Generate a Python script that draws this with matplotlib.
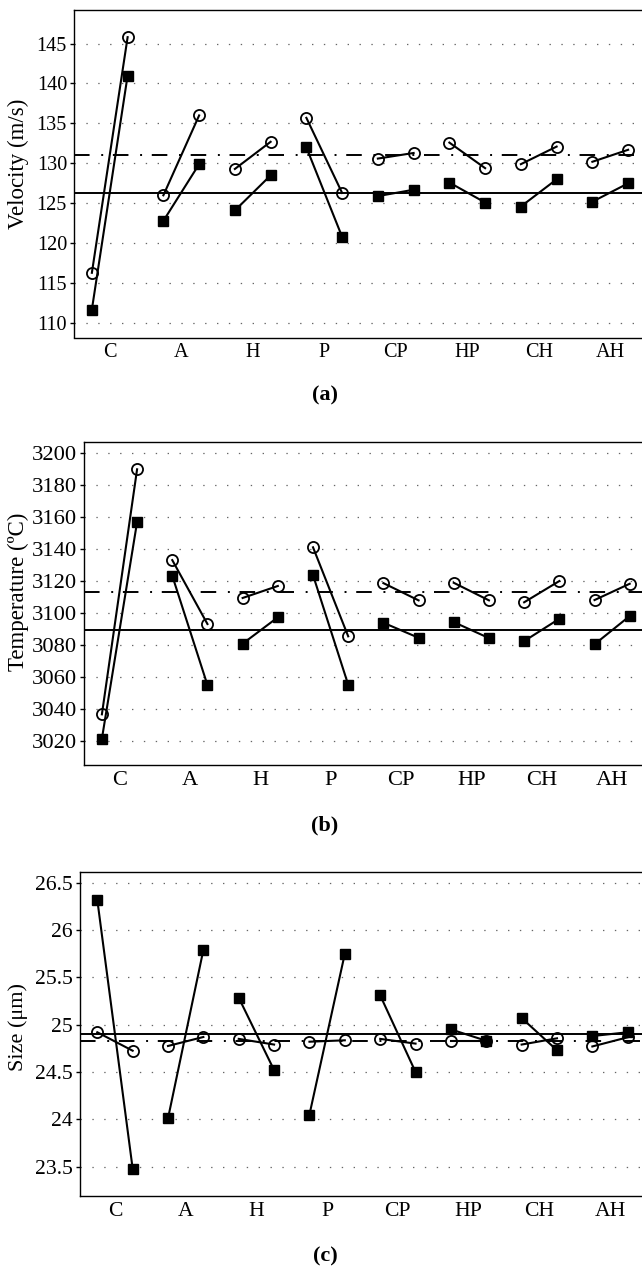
import numpy as np
import matplotlib.pyplot as plt

plt.rcParams['font.family'] = ['Liberation Serif', 'DejaVu Serif']

# ── Data ───────────────────────────────────────────────────────────────────────
FACTORS = ["C", "A", "H", "P", "CP", "HP", "CH", "AH"]

# (a) velocity, m/s — two levels per factor
VEL_CIRC = [116.3, 145.8, 126.0, 136.0, 129.3, 132.7, 135.7, 126.3,
            130.6, 131.3, 132.6, 129.4, 129.9, 132.1, 130.2, 131.7]
VEL_SQ = [111.7, 141.0, 122.8, 129.9, 124.1, 128.5, 132.0, 120.8,
          125.9, 126.7, 127.6, 125.1, 124.6, 128.0, 125.2, 127.5]
VEL_MEAN_CIRC = 131.0
VEL_MEAN_SQ = 126.35

# (b) temperature, ºC
TEMP_CIRC = [3036.7, 3190.0, 3133.2, 3093.2, 3109.5, 3117.0, 3141.2, 3085.5,
             3118.8, 3108.0, 3119.0, 3108.0, 3106.8, 3120.1, 3108.2, 3118.4]
TEMP_SQ = [3021.4, 3157.0, 3123.4, 3055.0, 3080.9, 3097.4, 3123.8, 3055.2,
           3094.0, 3084.6, 3094.4, 3084.4, 3082.5, 3096.5, 3080.5, 3098.2]
TEMP_MEAN_CIRC = 3113.0
TEMP_MEAN_SQ = 3089.4

# (c) size, µm
SIZE_CIRC = [24.92, 24.725, 24.775, 24.87, 24.85, 24.79, 24.82, 24.835,
             24.85, 24.80, 24.825, 24.825, 24.79, 24.856, 24.77, 24.867]
SIZE_SQ = [26.32, 23.48, 24.01, 25.79, 25.285, 24.52, 24.05, 25.75,
           25.31, 24.50, 24.95, 24.83, 25.07, 24.73, 24.88, 24.92]
SIZE_MEAN_CIRC = 24.825
SIZE_MEAN_SQ = 24.905

PANELS = [
    dict(circ=VEL_CIRC, sq=VEL_SQ, mc=VEL_MEAN_CIRC, ms=VEL_MEAN_SQ,
         yticks=[110, 115, 120, 125, 130, 135, 140, 145], ylim=(108.2, 149.2),
         ylabel="Velocity (m/s)", tag="(a)", fs=14.6, fs_lab=16.5,
         box=(74, 10, 646, 337.5), ylab_y=164, tag_y=395),
    dict(circ=TEMP_CIRC, sq=TEMP_SQ, mc=TEMP_MEAN_CIRC, ms=TEMP_MEAN_SQ,
         yticks=list(range(3020, 3201, 20)), ylim=(3005, 3206.9),
         ylabel="Temperature (ºC)", tag="(b)", fs=16.2, fs_lab=16.5,
         box=(84.3, 442.3, 647.3, 765), ylab_y=592, tag_y=825),
    dict(circ=SIZE_CIRC, sq=SIZE_SQ, mc=SIZE_MEAN_CIRC, ms=SIZE_MEAN_SQ,
         yticks=[23.5, 24, 24.5, 25, 25.5, 26, 26.5], ylim=(23.19, 26.61),
         ylabel="Size (μm)", tag="(c)", fs=15.6, fs_lab=16,
         box=(79.6, 872.3, 645.4, 1196), ylab_y=1027, tag_y=1256),
]

W, H = 642, 1269
fig = plt.figure(figsize=(W / 100, H / 100), dpi=100)

x = np.arange(1, 17)

for p in PANELS:
    l, t, r, b = p["box"]
    ax = fig.add_axes([l / W, 1 - b / H, (r - l) / W, (b - t) / H])

    circ = np.asarray(p["circ"])
    sq = np.asarray(p["sq"])
    for g in range(len(FACTORS)):
        sl = slice(2 * g, 2 * g + 2)
        ax.plot(x[sl], sq[sl], color="black", lw=1.5, marker="s",
                ms=7, mfc="black", mec="black", zorder=4)
        ax.plot(x[sl], circ[sl], color="black", lw=1.5, marker="o",
                ms=8, mfc="none", mec="black", mew=1.3, zorder=5)

    ax.axhline(p["mc"], color="black", lw=1.4, ls=(0, (8, 6, 1, 5)), zorder=3)
    ax.axhline(p["ms"], color="black", lw=1.4, zorder=3)

    ax.set_xlim(0.5, 16.5)
    ax.set_ylim(*p["ylim"])
    ax.set_yticks(p["yticks"])
    ax.set_yticklabels([f"{v:g}" for v in p["yticks"]], fontsize=p["fs"])
    ax.set_xticks(np.arange(1.5, 16.5, 2))
    ax.set_xticklabels(FACTORS, fontsize=p["fs"])
    ax.tick_params(axis="x", length=0, pad=4)
    ax.tick_params(axis="y", length=3, width=1, pad=2, direction="out")
    ax.yaxis.grid(True, color="#666666", lw=0.9, ls=(0, (1.1, 8.4)))
    ax.set_axisbelow(True)
    for s in ax.spines.values():
        s.set_linewidth(1.0)

    fig.text(18 / W, 1 - p["ylab_y"] / H, p["ylabel"], rotation=90,
             ha="center", va="center", fontsize=p["fs_lab"])
    fig.text(325 / W, 1 - p["tag_y"] / H, p["tag"], ha="center", va="center",
             fontsize=16, fontweight="bold")

fig.savefig("out.png", dpi=100)
